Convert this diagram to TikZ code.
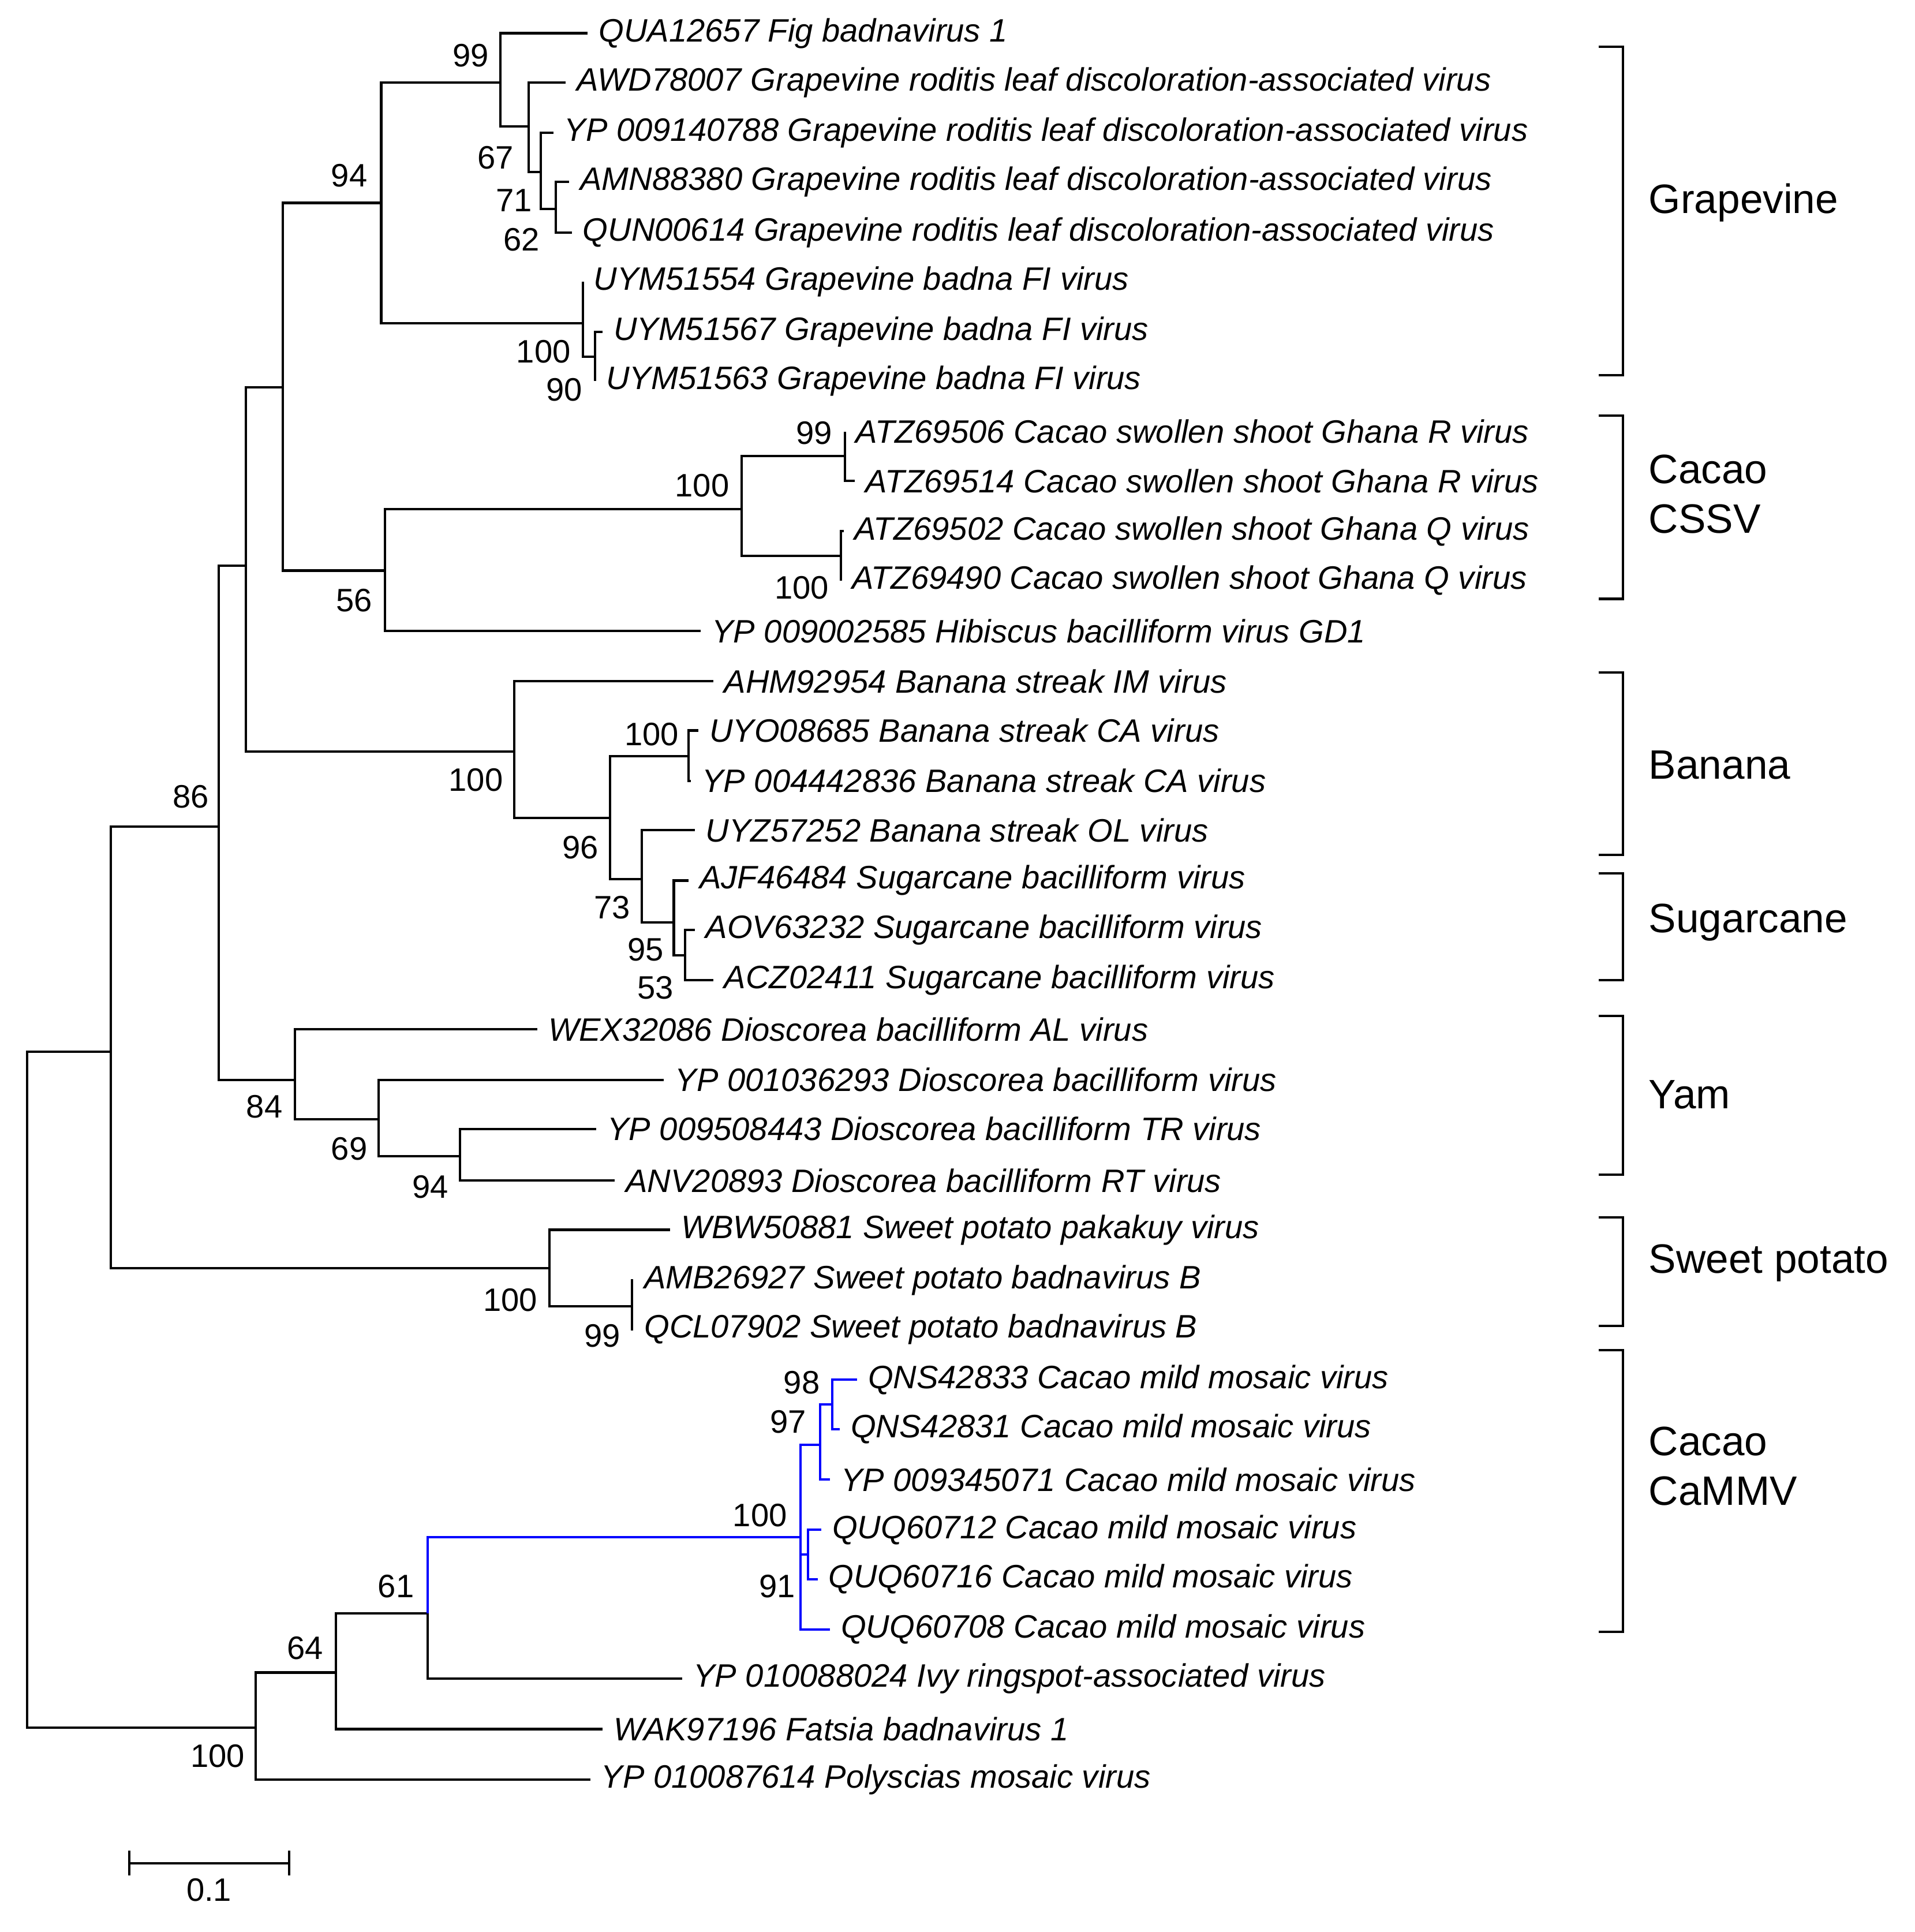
\documentclass[tikz,border=0pt]{standalone}
\usepackage{fontspec}
\setmainfont{Liberation Sans}
\begin{document}
\begin{tikzpicture}[x=0.02cm,y=-0.02cm,line width=1.1pt,
  leaf/.style={anchor=west,inner xsep=0.16cm,inner ysep=0pt,font=\fontsize{15}{15}\selectfont\itshape},
  bs/.style={inner sep=0pt,font=\fontsize{15}{15}\selectfont},
  grp/.style={anchor=west,inner sep=0pt,font=\fontsize{19}{23}\selectfont,align=left},
  cam/.style={blue}]
\useasboundingbox[fill=white] (0,0) rectangle (1557,1571);
% leaves
\node[leaf] (l1) at (478,27) {QUA12657 Fig badnavirus 1};
\node[leaf] (l2) at (460,67) {AWD78007 Grapevine roditis leaf discoloration-associated virus};
\node[leaf] (l3) at (450,108) {YP 009140788 Grapevine roditis leaf discoloration-associated virus};
\node[leaf] (l4) at (463,148) {AMN88380 Grapevine roditis leaf discoloration-associated virus};
\node[leaf] (l5) at (465,189) {QUN00614 Grapevine roditis leaf discoloration-associated virus};
\node[leaf] (l6) at (474,229) {UYM51554 Grapevine badna FI virus};
\node[leaf] (l7) at (490,270) {UYM51567 Grapevine badna FI virus};
\node[leaf] (l8) at (484,310) {UYM51563 Grapevine badna FI virus};
\node[leaf] (l9) at (687,351) {ATZ69506 Cacao swollen shoot Ghana R virus};
\node[leaf] (l10) at (695,391) {ATZ69514 Cacao swollen shoot Ghana R virus};
\node[leaf] (l11) at (686,432) {ATZ69502 Cacao swollen shoot Ghana Q virus};
\node[leaf] (l12) at (684,472) {ATZ69490 Cacao swollen shoot Ghana Q virus};
\node[leaf] (l13) at (570,513) {YP 009002585 Hibiscus bacilliform virus GD1};
\node[leaf] (l14) at (580,554) {AHM92954 Banana streak IM virus};
\node[leaf] (l15) at (568,594) {UYO08685 Banana streak CA virus};
\node[leaf] (l16) at (562,635) {YP 004442836 Banana streak CA virus};
\node[leaf] (l17) at (565,675) {UYZ57252 Banana streak OL virus};
\node[leaf] (l18) at (560,716) {AJF46484 Sugarcane bacilliform virus};
\node[leaf] (l19) at (565,756) {AOV63232 Sugarcane bacilliform virus};
\node[leaf] (l20) at (580,797) {ACZ02411 Sugarcane bacilliform virus};
\node[leaf] (l21) at (437,837) {WEX32086 Dioscorea bacilliform AL virus};
\node[leaf] (l22) at (540,878) {YP 001036293 Dioscorea bacilliform virus};
\node[leaf] (l23) at (485,918) {YP 009508443 Dioscorea bacilliform TR virus};
\node[leaf] (l24) at (500,960) {ANV20893 Dioscorea bacilliform RT virus};
\node[leaf] (l25) at (545,1000) {WBW50881 Sweet potato pakakuy virus};
\node[leaf] (l26) at (515,1041) {AMB26927 Sweet potato badnavirus B};
\node[leaf] (l27) at (515,1081) {QCL07902 Sweet potato badnavirus B};
\node[leaf] (l28) at (697,1122) {QNS42833 Cacao mild mosaic virus};
\node[leaf] (l29) at (683,1162) {QNS42831 Cacao mild mosaic virus};
\node[leaf] (l30) at (675,1203) {YP 009345071 Cacao mild mosaic virus};
\node[leaf] (l31) at (668,1244) {QUQ60712 Cacao mild mosaic virus};
\node[leaf] (l32) at (665,1284) {QUQ60716 Cacao mild mosaic virus};
\node[leaf] (l33) at (675,1325) {QUQ60708 Cacao mild mosaic virus};
\node[leaf] (l34) at (555,1365) {YP 010088024 Ivy ringspot-associated virus};
\node[leaf] (l35) at (490,1406) {WAK97196 Fatsia badnavirus 1};
\node[leaf] (l36) at (480,1447) {YP 010087614 Polyscias mosaic virus};
% internal nodes
\coordinate (r) at (22,1130); \coordinate (A) at (90,855); \coordinate (P) at (208,1405);
\coordinate (N86) at (178,672); \coordinate (SP) at (447,1031);
\coordinate (B) at (200,460); \coordinate (Y) at (240,878);
\coordinate (C) at (230,315); \coordinate (Ban) at (418,611);
\coordinate (G) at (310,165); \coordinate (N56) at (313,464);
\coordinate (N99) at (407,67); \coordinate (U) at (474,263);
\coordinate (N67) at (430,103); \coordinate (N71) at (440,140); \coordinate (N62) at (452,170);
\coordinate (U2) at (484,290);
\coordinate (Na) at (603,414); \coordinate (c1) at (687,371); \coordinate (c2) at (684,452);
\coordinate (N96) at (496,665); \coordinate (Nb) at (560,615); \coordinate (N73) at (522,715);
\coordinate (N95) at (548,750); \coordinate (N53) at (557,777);
\coordinate (N69) at (308,910); \coordinate (N94) at (374,940);
\coordinate (N99s) at (514,1062);
\coordinate (N64) at (273,1360); \coordinate (N61) at (348,1312);
\coordinate (M) at (651,1250); \coordinate (N97) at (667,1175); \coordinate (N91) at (657,1264);
\coordinate (N98) at (677,1142);
% branches
\foreach \p/\c in {r/A,r/P,A/N86,A/SP,N86/B,N86/Y,B/C,B/Ban,C/G,C/N56,G/N99,G/U,
  N99/l1,N99/N67,N67/l2,N67/N71,N71/l3,N71/N62,N62/l4,N62/l5,U/l6,U/U2,U2/l7,U2/l8,
  N56/Na,N56/l13,Na/c1,Na/c2,c1/l9,c1/l10,c2/l11,c2/l12,
  Ban/l14,Ban/N96,N96/Nb,N96/N73,Nb/l15,Nb/l16,N73/l17,N73/N95,N95/l18,N95/N53,N53/l19,N53/l20,
  Y/l21,Y/N69,N69/l22,N69/N94,N94/l23,N94/l24,SP/l25,SP/N99s,N99s/l26,N99s/l27,
  P/N64,P/l36,N64/N61,N64/l35,N61/l34}
  \draw (\p) |- (\c.west);
\foreach \p/\c in {N61/M,M/N97,M/N91,M/l33,N97/N98,N97/l30,N98/l28,N98/l29,N91/l31,N91/l32}
  \draw[cam] (\p) |- (\c.west);
% bootstrap
\foreach \x/\y/\t in {383/45/99,403/128/67,418/163/71,424/195/62,284/143/94,442/286/100,459/317/90,
  662/352/99,571/395/100,652/478/100,288/488/56,155/648/86,387/634/100,530/597/100,472/689/96,
  498/738/73,525/772/95,533/803/53,215/900/84,284/934/69,350/965/94,415/1057/100,490/1086/99,
  652/1124/98,641/1156/97,618/1232/100,632/1290/91,322/1290/61,248/1340/64,177/1428/100}
  \node[bs] at (\x,\y) {\t};
% brackets
\foreach \a/\b in {38/305,338/487,547/695,710/797,826/955,990/1078,1098/1327}
  \draw (1300,\a) -- (1320,\a) -- (1320,\b) -- (1300,\b);
\node[grp] (g1) at (1340,165) {Grapevine};
\node[grp] (g2) at (1340,402) {Cacao\\CSSV};
\node[grp] (g3) at (1340,622) {Banana};
\node[grp] (g4) at (1340,750) {Sugarcane};
\node[grp] (g5) at (1340,890) {Yam};
\node[grp] (g6) at (1340,1027) {Sweet potato};
\node[grp] (g7) at (1340,1192) {Cacao\\CaMMV};
% scale bar
\draw (105,1505) -- (105,1525) (105,1515) -- (235,1515) (235,1505) -- (235,1525);
\node[bs] (sc) at (170,1537) {0.1};
\end{tikzpicture}
\end{document}
